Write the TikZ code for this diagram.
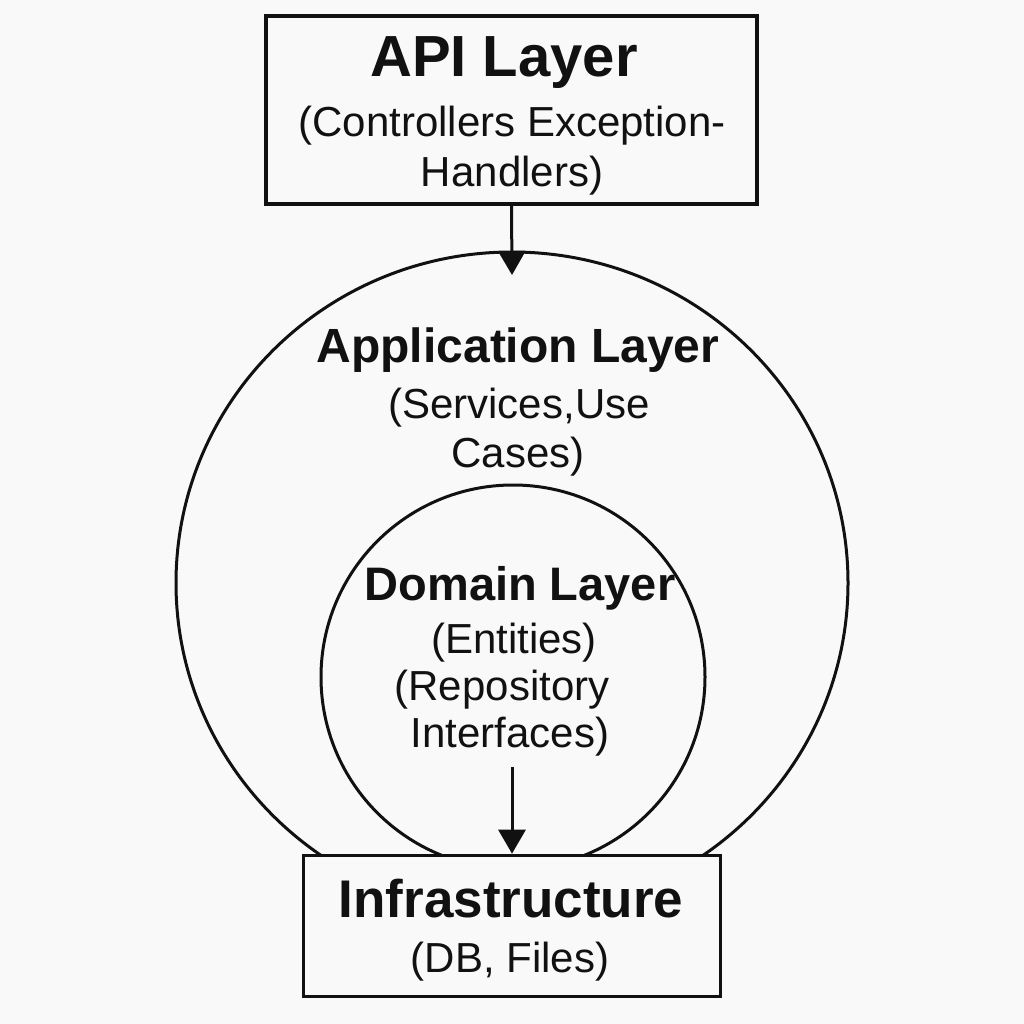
\documentclass[tikz,border=0pt]{standalone}
\usepackage{fontspec}
\setmainfont{Liberation Sans}
\usepackage{xcolor}
\usepackage{tikz}
\usetikzlibrary{arrows.meta}
\definecolor{paper}{HTML}{F9F9F9}
\definecolor{ink}{HTML}{111111}
\tikzset{
  layerbox/.style={draw=ink, line width=3.6pt, fill=paper, inner sep=0pt},
  ring/.style={draw=ink, line width=3pt},
  dep/.style={draw=ink, line width=3pt, -{Triangle[length=24pt,width=27pt]}},
  title/.style={anchor=base, inner sep=0pt, text=ink},
  note/.style={anchor=base, inner sep=0pt, text=ink, font=\fontsize{42}{50}\selectfont}
}

\begin{document}
\begin{tikzpicture}[x=1pt,y=-1pt]
    \fill[paper] (0,0) rectangle (1024,1024);
    \useasboundingbox (0,0) rectangle (1024,1024);
    % rings
    \draw[ring] (512,583) ellipse [x radius=336, y radius=331];
    \draw[ring] (513,677) circle [radius=192];
    % boxes
    \node[layerbox, minimum width=491pt, minimum height=188pt] (api) at (511.5,110) {};
    \node[layerbox, minimum width=417pt, minimum height=141pt] (infra) at (512,926) {};
    %
    \coordinate (apparrow) at (512,275);
    \coordinate (domarrow) at (512,767);
    \draw[dep] (api.south) -- (apparrow);
    \draw[dep] (domarrow) -- (infra.north);
    %
    \node[title, font=\bfseries\fontsize{58}{60}\selectfont] (apititle) at (504,77) {API Layer};
    \node[note] (apinote) at (512,137) {(Controllers Exception-};
    \node[note] (apinotetwo) at (512,187) {Handlers)};
    \node[title, font=\bfseries\fontsize{48}{56}\selectfont] (apptitle) at (518,362) {Application Layer};
    \node[note] (appnote) at (519,418) {(Services,Use};
    \node[note] (appnotetwo) at (518,467) {Cases)};
    \node[title, font=\bfseries\fontsize{47}{56}\selectfont] (domtitle) at (520,600) {Domain Layer};
    \node[note] (domnote) at (514,653) {(Entities)};
    \node[note] (domnotetwo) at (502,700) {(Repository};
    \node[note] (domnotethree) at (510,747) {Interfaces)};
    \node[title, font=\bfseries\fontsize{53}{60}\selectfont] (infratitle) at (511,917) {Infrastructure};
    \node[note] (infranote) at (510,972) {(DB, Files)};
\end{tikzpicture}
\end{document}
